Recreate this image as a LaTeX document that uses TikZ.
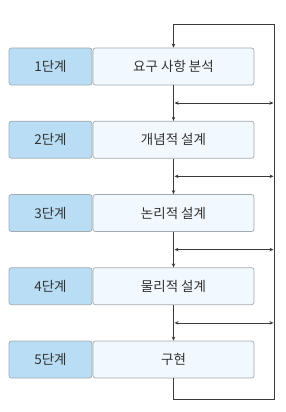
\documentclass[tikz,border=0pt]{standalone}
\usepackage{fontspec}
\setmainfont{Noto Sans CJK KR}
\usetikzlibrary{arrows.meta,positioning}
\definecolor{stageblue}{HTML}{B8DDF5}
\definecolor{taskblue}{HTML}{F1F8FE}
\definecolor{boxgray}{HTML}{A3AAAF}
\definecolor{linegray}{HTML}{3A3A3A}

\begin{document}
\begin{tikzpicture}[
    x=1pt, y=-1pt,
    font=\fontsize{13.5}{15}\selectfont,
    stage/.style={draw=boxgray, rounded corners=2.5pt, fill=stageblue,
      minimum width=83pt, minimum height=37pt, inner sep=0pt, text=black!80, line width=0.7pt},
    task/.style={stage, fill=taskblue, minimum width=161pt},
    flow/.style={draw=linegray, line width=0.8pt, -{Stealth[length=4pt,width=3.5pt]}},
    both/.style={flow, {Stealth[length=4pt,width=3.5pt]}-{Stealth[length=4pt,width=3.5pt]}}
  ]
    \useasboundingbox (0,0) rectangle (286,412);

    \node[stage] (s1) at (50.5,66.5) {1단계};
    \node[task] (req) at (173.5,66.5) {요구 사항 분석};
    \node[stage] (s2) at (50.5,139.7) {2단계};
    \node[task] (concept) at (173.5,139.7) {개념적 설계};
    \node[stage] (s3) at (50.5,213) {3단계};
    \node[task] (logic) at (173.5,213) {논리적 설계};
    \node[stage] (s4) at (50.5,286.2) {4단계};
    \node[task] (phys) at (173.5,286.2) {물리적 설계};
    \node[stage] (s5) at (50.5,359.5) {5단계};
    \node[task] (impl) at (173.5,359.5) {구현};

    % feedback loop on the right
    \coordinate (loopTop) at (274,24);
    \coordinate (loopBot) at (274,399);
    \coordinate (back1l) at (174.5,103);
    \coordinate (back1r) at (273.5,103);
    \coordinate (back2l) at (174.5,176.3);
    \coordinate (back2r) at (273.5,176.3);
    \coordinate (back3l) at (174.5,249.6);
    \coordinate (back3r) at (273.5,249.6);
    \coordinate (back4l) at (174.5,322.9);
    \coordinate (back4r) at (273.5,322.9);

    \draw[flow] (req.south) -- (concept.north);
    \draw[flow] (concept.south) -- (logic.north);
    \draw[flow] (logic.south) -- (phys.north);
    \draw[flow] (phys.south) -- (impl.north);
    \draw[flow] (impl.south) |- (loopBot) -- (loopTop) -| (req.north);

    \draw[both] (back1l) -- (back1r);
    \draw[both] (back2l) -- (back2r);
    \draw[both] (back3l) -- (back3r);
    \draw[both] (back4l) -- (back4r);
  \end{tikzpicture}
\end{document}
